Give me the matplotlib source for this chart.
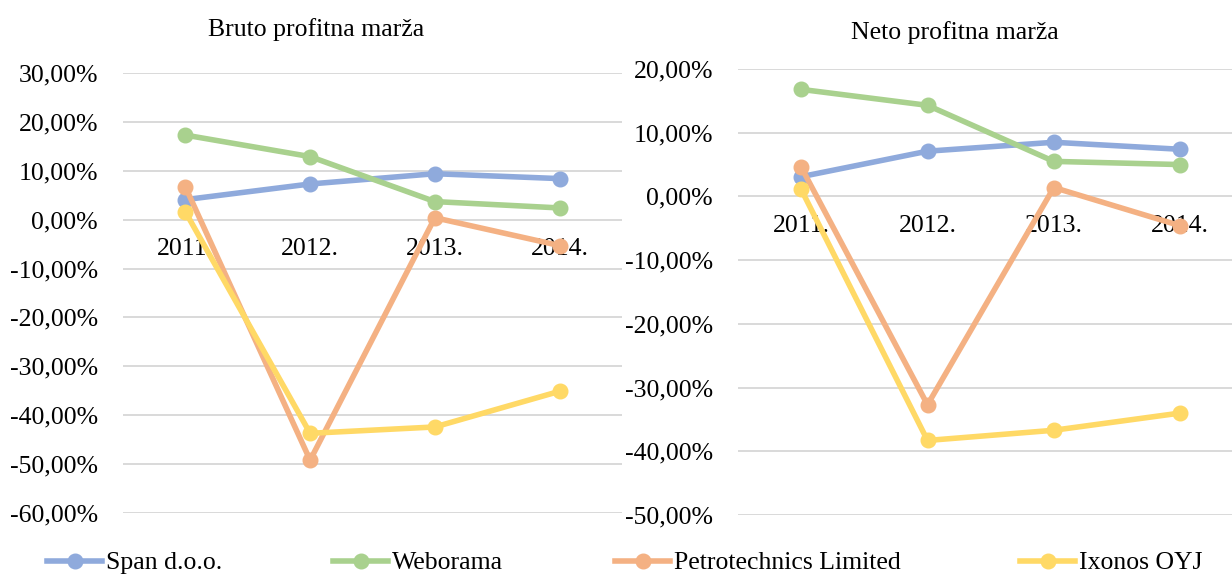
import matplotlib
matplotlib.use("Agg")
import matplotlib.pyplot as plt
from matplotlib.lines import Line2D
from matplotlib.ticker import FuncFormatter

plt.rcParams['font.family'] = ['Liberation Serif', 'DejaVu Serif']

years = ["2011.", "2012.", "2013.", "2014."]
series_names = ["Span d.o.o.", "Weborama", "Petrotechnics Limited", "Ixonos OYJ"]
colors = ["#8faadc", "#a9d18e", "#f4b183", "#ffd966"]

bruto_span = [4.1, 7.3, 9.4, 8.4]
bruto_weborama = [17.3, 12.9, 3.7, 2.4]
bruto_petro = [6.7, -49.2, 0.4, -5.3]
bruto_ixonos = [1.6, -43.7, -42.4, -35.1]

neto_span = [3.1, 7.1, 8.5, 7.4]
neto_weborama = [16.8, 14.3, 5.5, 5.0]
neto_petro = [4.6, -32.7, 1.4, -4.6]
neto_ixonos = [1.1, -38.3, -36.7, -34.0]

W, H = 1232, 574
fig = plt.figure(figsize=(W / 100, H / 100), dpi=100)

fs = 18.5

def pct(v, pos):
    return f"{v:.2f}".replace(".", ",") + "%"

def setup(ax, data, ylim, yticks, xlim):
    x = list(range(len(years)))
    for vals, c in zip(data, colors):
        ax.plot(x, vals, color=c, lw=4.0, marker='o', ms=10.5, zorder=3,
                solid_capstyle='round')
    ax.set_ylim(*ylim)
    ax.set_xlim(*xlim)
    ax.set_yticks(yticks)
    ax.yaxis.set_major_formatter(FuncFormatter(pct))
    ax.set_xticks(x)
    ax.set_xticklabels(years)
    ax.spines['bottom'].set_position(('data', 0))
    for s in ax.spines.values():
        s.set_visible(False)
    ax.tick_params(axis='x', length=0, pad=13.5, labelsize=fs)
    ax.tick_params(axis='y', length=0, pad=18, labelsize=fs)
    ax.grid(axis='y', color='#d9d9d9', lw=1.4)
    ax.set_axisbelow(True)

ax1 = fig.add_axes([123 / W, 1 - 513 / H, (622 - 123) / W, (513 - 73) / H])
setup(ax1, [bruto_span, bruto_weborama, bruto_petro, bruto_ixonos],
      (-60, 30), list(range(-60, 31, 10)), (-0.5, 3.5))
fig.text(316 / W, 1 - 30 / H, "Bruto profitna marža", fontsize=fs,
         ha='center', va='center')

ax2 = fig.add_axes([738 / W, 1 - 515 / H, (1232 - 738) / W, (515 - 69) / H])
setup(ax2, [neto_span, neto_weborama, neto_petro, neto_ixonos],
      (-50, 20), list(range(-50, 21, 10)), (-0.5, 3.41))
fig.text(955 / W, 1 - 33 / H, "Neto profitna marža", fontsize=fs,
         ha='center', va='center')

leg_x = [47, 333, 615, 1020]
for name, c, lx in zip(series_names, colors, leg_x):
    h = Line2D([], [], color=c, lw=4.0, marker='o', ms=10.5)
    fig.legend(handles=[h], labels=[name], loc='center left',
               bbox_to_anchor=(lx / W, 1 - 563 / H), frameon=False,
               fontsize=fs, handlelength=2.15, handletextpad=0.15,
               borderpad=0, borderaxespad=0)

fig.savefig("out.png", dpi=100)
